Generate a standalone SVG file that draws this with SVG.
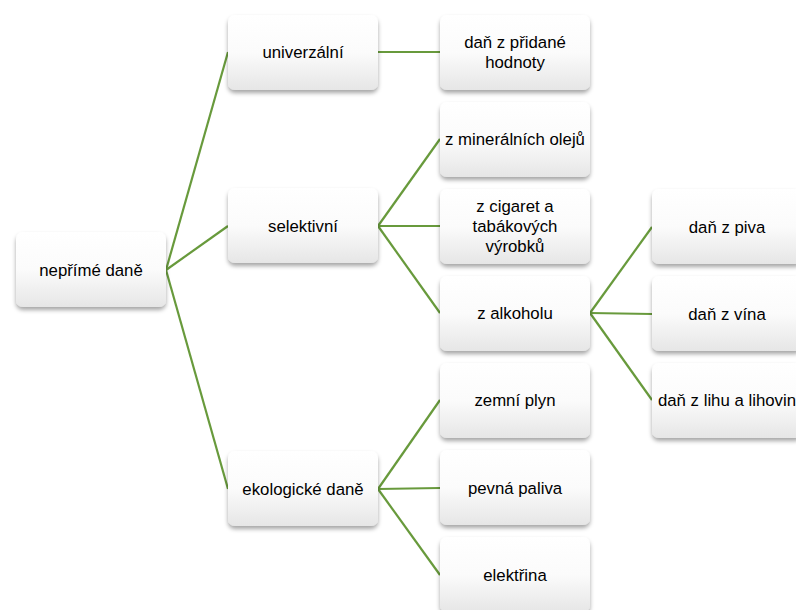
<svg xmlns="http://www.w3.org/2000/svg" width="796" height="610" viewBox="0 0 796 610">
<defs>
<linearGradient id="g" x1="0" y1="0" x2="0" y2="1">
<stop offset="0" stop-color="#ffffff"/>
<stop offset="0.5" stop-color="#fbfbfb"/>
<stop offset="1" stop-color="#e6e6e6"/>
</linearGradient>
<filter id="sh" x="-10%" y="-10%" width="120%" height="130%">
<feDropShadow dx="0" dy="3" stdDeviation="2" flood-color="#000" flood-opacity="0.35"/>
</filter>
</defs>
<style>
.n rect{fill:url(#g);filter:url(#sh)}
.n text{font-family:"Liberation Sans","DejaVu Sans",sans-serif;font-size:16.8px;fill:#000;text-anchor:middle}
#connectors line{stroke:#689a3c;stroke-width:2.2;fill:none}
</style>
<rect width="796" height="610" fill="#fff"/>
<g id="connectors">
<line x1="166" y1="270" x2="228" y2="52"/>
<line x1="166" y1="270" x2="228" y2="226"/>
<line x1="166" y1="270" x2="228" y2="489"/>
<line x1="378" y1="52" x2="440" y2="52"/>
<line x1="378" y1="226" x2="440" y2="139"/>
<line x1="378" y1="226" x2="440" y2="226"/>
<line x1="378" y1="226" x2="440" y2="313"/>
<line x1="378" y1="489" x2="440" y2="400"/>
<line x1="378" y1="489" x2="440" y2="488"/>
<line x1="378" y1="489" x2="440" y2="575"/>
<line x1="590" y1="313" x2="652" y2="227"/>
<line x1="590" y1="313" x2="652" y2="314"/>
<line x1="590" y1="313" x2="652" y2="400"/>
</g>
<g id="root" class="n"><rect x="16" y="232" width="150" height="75" rx="7"/><text x="91" y="276">nepřímé daně</text></g>
<g id="univerzalni" class="n"><rect x="228" y="15" width="150" height="75" rx="7"/><text x="303" y="58">univerzální</text></g>
<g id="selektivni" class="n"><rect x="228" y="188" width="150" height="75" rx="7"/><text x="303" y="232">selektivní</text></g>
<g id="ekologicke" class="n"><rect x="228" y="451" width="150" height="75" rx="7"/><text x="303" y="495">ekologické daně</text></g>
<g id="dph" class="n"><rect x="440" y="15" width="150" height="75" rx="7"/><text x="515" y="48">daň z přidané</text><text x="515" y="68">hodnoty</text></g>
<g id="oleje" class="n"><rect x="440" y="102" width="150" height="75" rx="7"/><text x="515" y="145">z minerálních olejů</text></g>
<g id="cigarety" class="n"><rect x="440" y="189" width="150" height="75" rx="7"/><text x="515" y="212">z cigaret a</text><text x="515" y="232">tabákových</text><text x="515" y="252">výrobků</text></g>
<g id="alkohol" class="n"><rect x="440" y="276" width="150" height="75" rx="7"/><text x="515" y="319">z alkoholu</text></g>
<g id="plyn" class="n"><rect x="440" y="363" width="150" height="75" rx="7"/><text x="515" y="406">zemní plyn</text></g>
<g id="paliva" class="n"><rect x="440" y="450" width="150" height="75" rx="7"/><text x="515" y="494">pevná paliva</text></g>
<g id="elektrina" class="n"><rect x="440" y="537" width="150" height="75" rx="7"/><text x="515" y="581">elektřina</text></g>
<g id="pivo" class="n"><rect x="652" y="189" width="150" height="75" rx="7"/><text x="727" y="233">daň z piva</text></g>
<g id="vino" class="n"><rect x="652" y="276" width="150" height="75" rx="7"/><text x="727" y="320">daň z vína</text></g>
<g id="lih" class="n"><rect x="652" y="363" width="150" height="75" rx="7"/><text x="727" y="406">daň z lihu a lihovin</text></g>
</svg>
